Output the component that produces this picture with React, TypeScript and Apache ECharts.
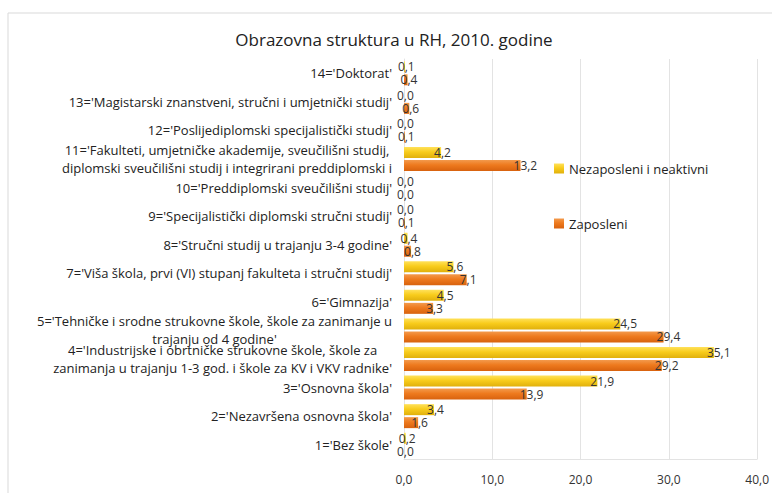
import React, { useEffect, useRef } from "react";
import * as echarts from "echarts";

const title = "Obrazovna struktura u RH, 2010. godine";
const categories = [
  "1='Bez škole'",
  "2='Nezavršena osnovna škola'",
  "3='Osnovna škola'",
  "4='Industrijske i obrtničke strukovne škole, škole za\nzanimanja u trajanju 1-3 god. i škole za KV i VKV radnike'",
  "5='Tehničke i srodne strukovne škole, škole za zanimanje u\ntrajanju od 4 godine'",
  "6='Gimnazija'",
  "7='Viša škola, prvi (VI) stupanj fakulteta i stručni studij'",
  "8='Stručni studij u trajanju 3-4 godine'",
  "9='Specijalistički diplomski stručni studij'",
  "10='Preddiplomski sveučilišni studij'",
  "11='Fakulteti, umjetničke akademije, sveučilišni studij,\ndiplomski sveučilišni studij i integrirani preddiplomski i",
  "12='Poslijediplomski specijalistički studij'",
  "13='Magistarski znanstveni, stručni i umjetnički studij'",
  "14='Doktorat'",
];
const nezaposleni = [0.2, 3.4, 21.9, 35.1, 24.5, 4.5, 5.6, 0.4, 0.0, 0.0, 4.2, 0.0, 0.0, 0.1];
const zaposleni = [0.0, 1.6, 13.9, 29.2, 29.4, 3.3, 7.1, 0.8, 0.1, 0.0, 13.2, 0.1, 0.6, 0.4];
const xTicks = [0, 10, 20, 30, 40];

const FONT = "'Open Sans', sans-serif";
const fmt = (v: number) => v.toFixed(1).replace(".", ",");

export default function App() {
  const ref = useRef<HTMLDivElement>(null);
  useEffect(() => {
    if (!ref.current) return;
    const chart = echarts.init(ref.current, undefined, { renderer: "svg" });
    const grad = (a: string, b: string, c: string) =>
      new echarts.graphic.LinearGradient(0, 0, 0, 1, [
        { offset: 0, color: a },
        { offset: 0.45, color: b },
        { offset: 1, color: c },
      ]);
    const labelCfg = {
      show: true,
      position: "right",
      distance: 0,
      offset: [-7, 0],
      color: "#333",
      fontSize: 12,
      fontFamily: FONT,
      formatter: (p: any) => fmt(p.value),
    };
    chart.setOption({
      animation: false,
      backgroundColor: "#fff",
      title: {
        text: title,
        left: 389,
        textAlign: "center",
        top: 26,
        textStyle: { fontSize: 17, fontWeight: "normal", color: "#222", fontFamily: FONT },
      },
      graphic: [
        {
          type: "rect",
          shape: { x: 8, y: 13, width: 800, height: 520 },
          style: { fill: "none", stroke: "#d9d9d9", lineWidth: 1 },
          silent: true,
        },
      ],
      legend: {
        orient: "vertical",
        left: 549,
        top: 157,
        itemGap: 42,
        icon: "rect",
        itemWidth: 10,
        itemHeight: 10,
        data: ["Nezaposleni i neaktivni", "Zaposleni"],
        textStyle: { fontSize: 13, color: "#222", fontFamily: FONT },
      },
      grid: { left: 404, right: 8, top: 59, bottom: 34 },
      xAxis: {
        type: "value",
        min: xTicks[0],
        max: xTicks[xTicks.length - 1],
        interval: 10,
        axisLine: { show: true, lineStyle: { color: "#e3e3e3" } },
        axisTick: { show: false },
        splitLine: { show: true, lineStyle: { color: "#e3e3e3" } },
        axisLabel: {
          margin: 14,
          fontSize: 12,
          color: "#333",
          fontFamily: FONT,
          formatter: (v: number) => fmt(v),
        },
      },
      yAxis: {
        type: "category",
        data: categories,
        axisTick: { show: false },
        axisLine: { show: true, lineStyle: { color: "#e3e3e3" } },
        axisLabel: {
          interval: 0,
          margin: 12,
          fontSize: 13,
          lineHeight: 18,
          color: "#222",
          fontFamily: FONT,
          formatter: (v: string) =>
            v
              .split("\n")
              .map((l) => "{c|" + l + "}")
              .join("\n"),
          rich: {
            c: { align: "center", fontSize: 13, lineHeight: 18, color: "#222", fontFamily: FONT },
          },
        },
      },
      series: [
        {
          name: "Nezaposleni i neaktivni",
          type: "bar",
          data: nezaposleni,
          barWidth: 11,
          barGap: "18%",
          itemStyle: { color: grad("#ffe15a", "#f8cc1c", "#e0b00c") },
          label: labelCfg,
        },
        {
          name: "Zaposleni",
          type: "bar",
          data: zaposleni,
          barWidth: 11,
          barGap: "18%",
          itemStyle: { color: grad("#f39a4c", "#ee7a1e", "#d8620e") },
          label: labelCfg,
        },
      ],
    });
    return () => chart.dispose();
  }, []);
  return (
    <div
      ref={ref}
      style={{ position: "fixed", left: 0, top: 0, width: 772, height: 493 }}
    />
  );
}
